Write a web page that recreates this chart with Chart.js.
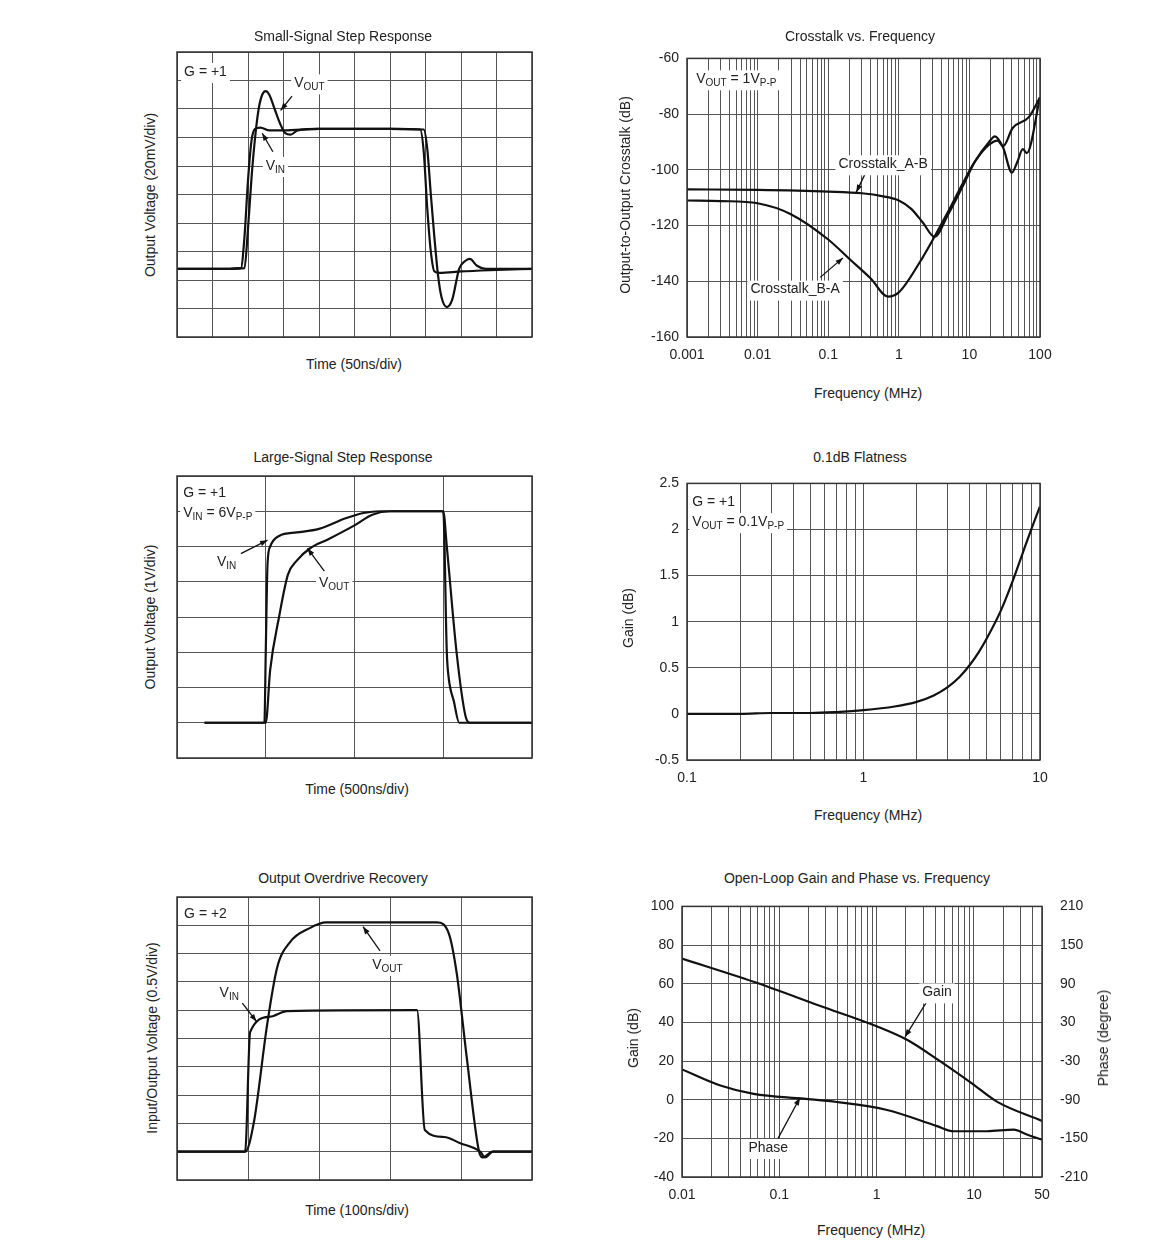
<!DOCTYPE html>
<html>
<head>
<meta charset="utf-8">
<script src="https://cdn.jsdelivr.net/npm/chart.js@4"></script>
<style>
  body { margin: 0; background: #fff; font-family: "Liberation Sans", Arial, sans-serif; color: #222; }
  #page { position: relative; width: 1170px; height: 1257px; }
  .box { position: absolute; }
  .t { position: absolute; font-size: 14px; white-space: nowrap; transform: translate(-50%, -50%); }
  .r { transform: translate(-50%, -50%) rotate(-90deg); }
</style>
</head>
<body>
<div id="page"></div>
<script>
// ---- small-signal step (x in div, y in div)
const ssVinT = [0, 1.0, 1.8, 1.9, 2.0, 2.1, 2.2, 2.35, 2.6, 3.0, 4, 5, 6, 6.85, 6.95, 7.05, 7.15, 7.25, 7.4, 8, 9, 10];
const ssVinV = [2.39, 2.39, 2.42, 3.5, 5.5, 6.9, 7.3, 7.35, 7.25, 7.25, 7.3, 7.3, 7.3, 7.28, 6.5, 4.5, 3.0, 2.3, 2.25, 2.3, 2.35, 2.39];
const ssVoutT = [0, 1.0, 1.9, 2.0, 2.1, 2.2, 2.3, 2.4, 2.5, 2.6, 2.75, 2.9, 3.05, 3.2, 3.4, 4, 5, 6, 6.95, 7.05, 7.15, 7.25, 7.35, 7.45, 7.6, 7.75, 7.95, 8.1, 8.25, 8.45, 8.7, 9, 10];
const ssVoutV = [2.39, 2.39, 2.42, 3.8, 5.6, 7.0, 8.0, 8.5, 8.63, 8.5, 8.0, 7.5, 7.15, 7.1, 7.25, 7.3, 7.3, 7.3, 7.28, 6.6, 5.0, 3.5, 2.2, 1.4, 1.05, 1.3, 2.4, 2.65, 2.74, 2.5, 2.39, 2.39, 2.39];

// ---- crosstalk (MHz, dB)
const ctAbF = [0.001, 0.01, 0.1, 0.3, 0.6, 1, 1.5, 2.2, 3.2, 5, 8, 12, 19, 23, 30, 40, 48, 57, 65, 100];
const ctAbV = [-107, -107.2, -107.8, -108.4, -109.5, -111, -114, -119, -124, -116, -106, -97, -90, -88, -92, -101, -97, -92.6, -94, -74];
const ctBaF = [0.001, 0.003, 0.01, 0.03, 0.1, 0.2, 0.4, 0.7, 1, 2, 3.2, 5, 8, 12, 19, 25, 30, 41, 70, 100];
const ctBaV = [-111, -111.2, -112, -116, -125, -132, -139, -145.5, -144, -133, -124, -115, -105, -97, -91, -89.5, -91.5, -85, -81, -74];

// ---- large-signal step (x in div, y in div)
const lsVinT = [0.31, 0.985, 1.0, 1.02, 1.05, 1.15, 1.35, 1.6, 1.9, 2.1, 2.3, 3.0, 3.04, 3.06, 3.12, 3.18, 4];
const lsVinV = [1, 1, 3, 5.5, 6.0, 6.3, 6.4, 6.5, 6.8, 6.95, 7, 7, 3, 2.3, 1.6, 1, 1];
const lsVoutT = [0.31, 1.0, 1.05, 1.15, 1.25, 1.35, 1.5, 1.7, 2.0, 2.2, 2.4, 3.0, 3.04, 3.15, 3.25, 3.3, 4];
const lsVoutV = [1, 1, 2.5, 4, 5.2, 5.6, 5.95, 6.2, 6.6, 6.9, 7, 7, 6, 3, 1.2, 1, 1];

// ---- 0.1dB flatness
const flF = [0.1, 0.2, 0.3, 0.5, 0.7, 1, 1.5, 2, 2.5, 3, 3.5, 4, 4.5, 5, 6, 7, 8, 9, 10];
const flV = [0, 0, 0.01, 0.01, 0.02, 0.04, 0.08, 0.13, 0.2, 0.29, 0.4, 0.53, 0.67, 0.82, 1.12, 1.44, 1.75, 2.02, 2.25];

// ---- overdrive recovery (x in div, y in div)
const odVinT = [0, 0.96, 1.03, 1.31, 1.55, 3.38, 3.49, 3.76, 3.99, 4.27, 4.34, 4.45, 5];
const odVinV = [1, 1, 5.23, 5.77, 5.97, 6.0, 1.77, 1.52, 1.3, 1, 0.8, 1, 1];
const odVoutT = [0, 0.96, 1.08, 1.27, 1.41, 1.59, 1.87, 2.1, 3.66, 3.83, 3.94, 4.08, 4.25, 4.3, 4.45, 5];
const odVoutV = [1, 1, 2.0, 5.5, 7.5, 8.4, 8.9, 9.1, 9.1, 8.7, 7.3, 4.35, 1.05, 0.8, 1, 1];

// ---- open-loop gain / phase
const olGainF = [0.01, 0.0545, 0.264, 1, 2.05, 4.17, 9.2, 17.2, 50];
const olGainV = [73, 61, 48.5, 38, 31, 21, 9, -1, -11];
const olPhaseF = [0.01, 0.0248, 0.0545, 0.178, 0.39, 1.28, 4.17, 6.18, 13.6, 25.6, 35, 50];
const olPhaseV = [-43, -68, -81, -88.5, -93.6, -106, -131, -139, -139, -136.5, -144, -152];

const FONT = '14px "Liberation Sans", Arial, sans-serif';
const page = document.getElementById('page');

function text(s, x, y, rot) {
  const d = document.createElement('div');
  d.className = 't' + (rot ? ' r' : '');
  d.innerHTML = s;
  d.style.left = x + 'px';
  d.style.top = y + 'px';
  page.appendChild(d);
}

function pts(xs, ys) { return xs.map((x, i) => ({ x: x, y: ys[i] })); }

function line(data, yAxisID) {
  return { data: data, borderColor: '#111', borderWidth: 2.2, pointRadius: 0, showLine: true,
           cubicInterpolationMode: 'monotone', yAxisID: yAxisID || 'y' };
}

// log ticks 1..9 x 10^n inside [min,max]
function logTicks(min, max) {
  const out = [];
  for (let e = -4; e <= 3; e++) {
    for (let m = 1; m <= 9; m++) {
      const v = +(m * Math.pow(10, e)).toPrecision(3);
      if (v >= min * 0.999 && v <= max * 1.001) out.push({ value: v });
    }
  }
  return out;
}

// frame + annotation plugin
const notes = {
  id: 'notes',
  afterDatasetsDraw(chart, args, opts) {
    const ctx = chart.ctx, a = chart.chartArea;
    ctx.save();
    ctx.strokeStyle = '#333';
    ctx.lineWidth = 1.5;
    ctx.strokeRect(a.left, a.top, a.right - a.left, a.bottom - a.top);
    const xs = chart.scales.x, ys = chart.scales.y;
    (opts.arrows || []).forEach(ar => {
      const x1 = xs.getPixelForValue(ar[0]), y1 = ys.getPixelForValue(ar[1]);
      const x2 = xs.getPixelForValue(ar[2]), y2 = ys.getPixelForValue(ar[3]);
      const ang = Math.atan2(y2 - y1, x2 - x1);
      ctx.strokeStyle = '#111';
      ctx.fillStyle = '#111';
      ctx.lineWidth = 1.3;
      ctx.beginPath(); ctx.moveTo(x1, y1); ctx.lineTo(x2, y2); ctx.stroke();
      ctx.beginPath();
      ctx.moveTo(x2, y2);
      ctx.lineTo(x2 - 8 * Math.cos(ang - 0.35), y2 - 8 * Math.sin(ang - 0.35));
      ctx.lineTo(x2 - 8 * Math.cos(ang + 0.35), y2 - 8 * Math.sin(ang + 0.35));
      ctx.closePath(); ctx.fill();
    });
    (opts.labels || []).forEach(lb => {
      let px = xs.getPixelForValue(lb.x), py = ys.getPixelForValue(lb.y);
      let w = 0;
      lb.parts.forEach(p => {
        ctx.font = p[1] ? '10px "Liberation Sans", Arial' : FONT;
        w += ctx.measureText(p[0]).width;
      });
      if (lb.align === 'center') px -= w / 2;
      ctx.fillStyle = '#fff';
      ctx.fillRect(px - 3, py - 9, w + 6, 20);
      ctx.fillStyle = '#222';
      ctx.textBaseline = 'middle';
      lb.parts.forEach(p => {
        ctx.font = p[1] ? '10px "Liberation Sans", Arial' : FONT;
        ctx.fillText(p[0], px, p[1] ? py + 4 : py);
        px += ctx.measureText(p[0]).width;
      });
    });
    ctx.restore();
  }
};

function panel(cfg) {
  const L = cfg.L || 0, R = cfg.R || 0, B = cfg.B || 0;
  const div = document.createElement('div');
  div.className = 'box';
  div.style.left = (cfg.l - L - 4) + 'px';
  div.style.top = (cfg.t - 10) + 'px';
  div.style.width = (cfg.w + L + R + 8) + 'px';
  div.style.height = (cfg.h + 14 + B) + 'px';
  const cv = document.createElement('canvas');
  div.appendChild(cv);
  page.appendChild(div);
  const grid = { color: '#555', lineWidth: 1, drawTicks: false };
  const tick = { color: '#222', font: { family: '"Liberation Sans", Arial', size: 14 },
                 autoSkip: false, maxRotation: 0, minRotation: 0 };
  const scales = {
    x: Object.assign({ type: cfg.xType || 'linear', min: cfg.xMin, max: cfg.xMax, grid: grid, border: { display: false },
      afterFit: s => { s.height = B; } }, cfg.xExtra || {}),
    y: Object.assign({ type: 'linear', min: cfg.yMin, max: cfg.yMax, grid: grid, border: { display: false },
      afterFit: s => { s.width = L; } }, cfg.yExtra || {})
  };
  scales.x.ticks = Object.assign({}, tick, { display: !!B, padding: 10 }, scales.x.ticks || {});
  scales.y.ticks = Object.assign({}, tick, { display: !!L, padding: 8, callback: v => String(v) }, scales.y.ticks || {});
  if (cfg.y2) {
    scales.y2 = Object.assign({ position: 'right', grid: { display: false }, border: { display: false },
      afterFit: s => { s.width = R; } }, cfg.y2);
    scales.y2.ticks = Object.assign({}, tick, { padding: 10 }, cfg.y2.ticks || {});
  }
  new Chart(cv, {
    type: 'scatter',
    data: { datasets: cfg.datasets },
    options: {
      responsive: true, maintainAspectRatio: false, animation: false,
      layout: { padding: { left: 4, top: 10, bottom: 4, right: cfg.y2 ? 4 : 4 + R } },
      plugins: { legend: { display: false }, tooltip: { enabled: false },
                 notes: { labels: cfg.labels, arrows: cfg.arrows } },
      scales: scales
    },
    plugins: [notes]
  });
}

// 1. small-signal
panel({ l: 177, t: 52, w: 355, h: 285, xMin: 0, xMax: 10, yMin: 0, yMax: 10,
  xExtra: { ticks: { stepSize: 1 } }, yExtra: { ticks: { stepSize: 1 } },
  datasets: [line(pts(ssVinT, ssVinV)), line(pts(ssVoutT, ssVoutV))],
  labels: [{ x: 0.2, y: 9.3, parts: [['G = +1', 0]] },
           { x: 3.3, y: 8.9, parts: [['V', 0], ['OUT', 1]] },
           { x: 2.5, y: 6.0, parts: [['V', 0], ['IN', 1]] }],
  arrows: [[3.24, 8.45, 2.92, 7.95], [2.7, 6.5, 2.4, 7.15]] });
text('Small-Signal Step Response', 343, 36);
text('Output Voltage (20mV/div)', 150, 195, true);
text('Time (50ns/div)', 354, 364);

// 2. crosstalk
panel({ l: 687, t: 52, w: 353, h: 285, L: 55, R: 20, B: 28, xType: 'logarithmic', xMin: 0.001, xMax: 100,
  yMin: -160, yMax: -60,
  xExtra: { afterBuildTicks: s => { s.ticks = logTicks(0.001, 100); },
            ticks: { callback: v => ([0.001, 0.01, 0.1, 1, 10, 100].includes(v) ? String(v) : '') } },
  yExtra: { ticks: { stepSize: 20 } },
  datasets: [line(pts(ctAbF, ctAbV)), line(pts(ctBaF, ctBaV))],
  labels: [{ x: 0.00135, y: -67.5, parts: [['V', 0], ['OUT', 1], [' = 1V', 0], ['P-P', 1]] },
           { x: 0.6, y: -98, align: 'center', parts: [['Crosstalk_A-B', 0]] },
           { x: 0.034, y: -143, align: 'center', parts: [['Crosstalk_B-A', 0]] }],
  arrows: [[0.34, -101, 0.25, -108], [0.077, -138.6, 0.162, -131.6]] });
text('Crosstalk vs. Frequency', 860, 36);
text('Output-to-Output Crosstalk (dB)', 625, 195, true);
text('Frequency (MHz)', 868, 393);

// 3. large-signal
panel({ l: 177, t: 476, w: 355, h: 282, xMin: 0, xMax: 4, yMin: 0, yMax: 8,
  xExtra: { ticks: { stepSize: 1 } }, yExtra: { ticks: { stepSize: 1 } },
  datasets: [line(pts(lsVinT, lsVinV)), line(pts(lsVoutT, lsVoutV))],
  labels: [{ x: 0.07, y: 7.5, parts: [['G = +1', 0]] },
           { x: 0.07, y: 6.95, parts: [['V', 0], ['IN', 1], [' = 6V', 0], ['P-P', 1]] },
           { x: 0.45, y: 5.55, parts: [['V', 0], ['IN', 1]] },
           { x: 1.6, y: 4.95, parts: [['V', 0], ['OUT', 1]] }],
  arrows: [[0.72, 5.8, 1.02, 6.18], [1.66, 5.3, 1.47, 5.95]] });
text('Large-Signal Step Response', 343, 457);
text('Output Voltage (1V/div)', 150, 617, true);
text('Time (500ns/div)', 357, 789);

// 4. flatness
panel({ l: 687, t: 477, w: 353, h: 283, L: 45, R: 20, B: 28, xType: 'logarithmic', xMin: 0.1, xMax: 10,
  yMin: -0.5, yMax: 2.5,
  xExtra: { afterBuildTicks: s => { s.ticks = logTicks(0.1, 10); },
            ticks: { callback: v => ([0.1, 1, 10].includes(v) ? String(v) : '') } },
  yExtra: { ticks: { stepSize: 0.5 } },
  datasets: [line(pts(flF, flV))],
  labels: [{ x: 0.107, y: 2.3, parts: [['G = +1', 0]] },
           { x: 0.107, y: 2.08, parts: [['V', 0], ['OUT', 1], [' = 0.1V', 0], ['P-P', 1]] }],
  arrows: [] });
text('0.1dB Flatness', 860, 457);
text('Gain (dB)', 628, 618, true);
text('Frequency (MHz)', 868, 815);

// 5. overdrive
panel({ l: 177, t: 897, w: 355, h: 283, xMin: 0, xMax: 5, yMin: 0, yMax: 10,
  xExtra: { ticks: { stepSize: 1 } }, yExtra: { ticks: { stepSize: 1 } },
  datasets: [line(pts(odVinT, odVinV)), line(pts(odVoutT, odVoutV))],
  labels: [{ x: 0.1, y: 9.4, parts: [['G = +2', 0]] },
           { x: 2.75, y: 7.6, parts: [['V', 0], ['OUT', 1]] },
           { x: 0.6, y: 6.6, parts: [['V', 0], ['IN', 1]] }],
  arrows: [[2.86, 8.1, 2.62, 8.95], [0.92, 6.25, 1.12, 5.6]] });
text('Output Overdrive Recovery', 343, 878);
text('Input/Output Voltage (0.5V/div)', 152, 1038, true);
text('Time (100ns/div)', 357, 1210);

// 6. open-loop
panel({ l: 682, t: 898, w: 360, h: 279, L: 45, R: 50, B: 28, xType: 'logarithmic', xMin: 0.01, xMax: 50,
  yMin: -40, yMax: 100,
  xExtra: { afterBuildTicks: s => { s.ticks = logTicks(0.01, 50); },
            ticks: { callback: v => ([0.01, 0.1, 1, 10, 50].includes(v) ? String(v) : '') } },
  yExtra: { ticks: { stepSize: 20 } },
  y2: { min: -210, max: 210, ticks: { stepSize: 60 } },
  datasets: [line(pts(olGainF, olGainV)), line(pts(olPhaseF, olPhaseV), 'y2')],
  labels: [{ x: 4.17, y: 55.5, align: 'center', parts: [['Gain', 0]] },
           { x: 0.077, y: -25, align: 'center', parts: [['Phase', 0]] }],
  arrows: [[3.3, 51, 1.96, 32.5], [0.097, -20, 0.163, 1]] });
text('Open-Loop Gain and Phase vs. Frequency', 857, 878);
text('Gain (dB)', 633, 1038, true);
text('Phase (degree)', 1103, 1038, true);
text('Frequency (MHz)', 871, 1230);
</script>
</body>
</html>
